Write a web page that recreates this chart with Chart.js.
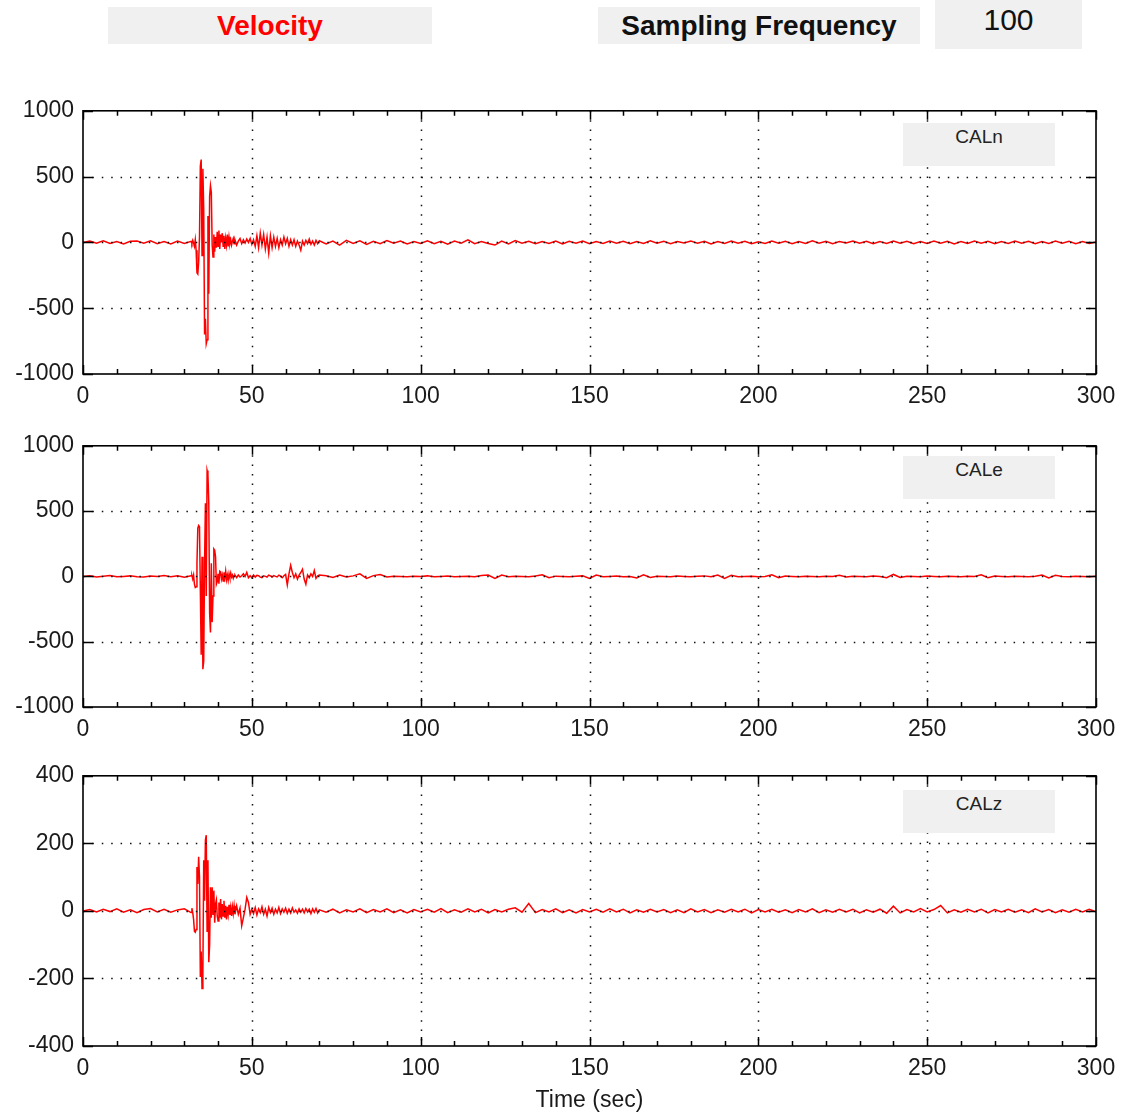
<!DOCTYPE html>
<html>
<head>
<meta charset="utf-8">
<script src="https://cdn.jsdelivr.net/npm/chart.js@4.4.0/dist/chart.umd.min.js"></script>
<style>
	body{margin:0;background:#fff;font-family:"Liberation Sans",Arial,sans-serif;}
	#page{position:relative;width:1130px;height:1114px;overflow:hidden;background:#fff;}
	.hbox{position:absolute;background:#f0f0f0;text-align:center;}
	.cal{position:absolute;left:903px;width:152px;height:43px;background:#f0f0f0;text-align:center;font-size:19px;line-height:28px;color:#222;}
	canvas{position:absolute;left:0;}
</style>
</head>
<body>
<div id="page">
	<div class="hbox" style="left:108px;top:7px;width:324px;height:37px;line-height:37px;font-weight:bold;font-size:28px;color:#ff0000;">Velocity</div>
	<div class="hbox" style="left:598px;top:7px;width:322px;height:37px;line-height:37px;font-weight:bold;font-size:28px;color:#111;">Sampling Frequency</div>
	<div class="hbox" style="left:935px;top:0px;width:147px;height:49px;line-height:40px;font-size:30px;color:#111;">100</div>

	<canvas id="cvN" width="1130" height="326" style="top:88px"></canvas>
	<canvas id="cvE" width="1130" height="324" style="top:423px"></canvas>
	<canvas id="cvZ" width="1130" height="361" style="top:753px"></canvas>

	<div class="cal" style="top:123px">CALn</div>
	<div class="cal" style="top:456px">CALe</div>
	<div class="cal" style="top:790px">CALz</div>
</div>
<script>
// sample times (sec), shared by the three components
var timeSec = [
	0,2,4,6,8,10,12,14,16,18,20,22,24,26,28,30,32,
	32.25,32.5,32.75,33, 33.25,33.5,33.75,34, 34.25,34.5,34.75,35, 35.25,35.5,35.75,36,
	36.25,36.5,36.75,37, 37.25,37.5,37.75,38, 38.25,38.5,38.75,39, 39.25,39.5,39.75,40,
	40.25,40.5,40.75,41, 41.25,41.5,41.75,42, 42.25,42.5,42.75,43, 43.25,43.5,43.75,44,
	44.25,44.5,44.75,45,
	45.5,46,46.5,47,47.5,48,48.5,49,49.5,50,
	50.5,51,51.5,52,52.5,53,53.5,54,54.5,55,
	55.5,56,56.5,57,57.5,58,58.5,59,59.5,60,
	60.5,61,61.5,62,62.5,63,63.5,64,64.5,65,
	65.5,66,66.5,67,67.5,68,68.5,69,69.5,70,
	72,74,76,78,80,82,84,86,88,90,
	92,94,96,98,100,102,104,106,108,110,
	112,114,116,118,120,122,124,126,128,130,
	132,134,136,138,140,142,144,146,148,150,
	152,154,156,158,160,162,164,166,168,170,
	172,174,176,178,180,182,184,186,188,190,
	192,194,196,198,200,202,204,206,208,210,
	212,214,216,218,220,222,224,226,228,230,
	232,234,236,238,240,242,244,246,248,250,
	252,254,256,258,260,262,264,266,268,270,
	272,274,276,278,280,282,284,286,288,290,
	292,294,296,298,300
];

// CALn velocity
var calnVel = [
	0,10,-6,12,-8,6,-12,8,10,-6,12,-10,6,-12,10,-8,8,
	-10,15,-5,-30, 20,-60,-230,-240, -150,40,580,630, -100,560,250,-700,
	-580,-770,-740,200, -390,350,430,380, -20,-110,60,-70, 40,-40,80,-30,
	90,-50,60,0, 70,-30,50,-50, 30,-20,60,-30, 40,-10,20,-20,
	10,30,-10,20,
	-20,10,30,-10,20,-5,25,0,30,-15,
	20,-30,50,-40,70,-20,60,-50,40,-80,
	50,-40,40,-30,30,-40,20,-20,40,-10,
	30,-30,20,-20,20,-30,10,-20,-60,10,
	-20,15,-10,25,-15,10,-20,15,-10,12,
	-12,10,-20,15,-8,12,-15,8,-10,14,
	-6,10,-12,6,-8,12,-10,8,-14,10,
	-6,20,-10,6,-8,-20,10,-12,14,-6,
	8,-10,6,-8,10,-12,8,-6,10,-10,
	6,-8,10,-6,8,-10,6,-8,12,-6,
	8,-10,6,-4,10,-6,8,-12,6,-8,
	10,-6,8,-10,4,-8,10,-6,8,-10,
	6,-8,12,-6,8,-10,6,-4,10,-6,
	8,-10,6,-8,10,-6,8,-10,6,-8,
	10,-6,8,-12,6,-8,10,-6,8,-10,
	6,-8,10,-6,8,-10,6,-8,10,-6,
	8,-10,6,-8,4
];

// CALe velocity
var caleVel = [
	0,4,-4,2,6,-3,0,4,-2,-4,3,0,6,-2,4,-6,5,
	6,-20,10,-60, -85,-80,100,370, 390,380,-100,-600, 150,-710,-650,100,
	560,-150,810,780, 560,-280,-430,100, -350,-150,210,200, 150,-60,-40,20,
	-55,40,35,-20, 10,-35,30,-10, 40,-25,10,-30, 20,-10,25,-5,
	10,-15,5,10,
	-10,10,-5,5,20,0,30,-10,5,-10,
	10,-5,8,5,-6,-10,4,0,-5,10,
	4,-5,6,0,-4,10,2,-10,5,15,
	-65,20,85,30,-10,20,-20,10,30,55,
	-20,-60,10,-10,20,0,45,-15,5,10,
	5,-8,10,-5,4,20,-15,6,15,-4,
	2,0,-3,2,0,4,-2,0,3,-2,
	0,2,-2,6,10,-15,10,-3,2,0,
	-2,3,12,-10,2,0,-3,2,4,-15,
	10,-2,0,3,-2,0,-12,12,-8,2,
	0,-2,3,0,-2,2,4,-3,10,-15,
	8,-2,0,2,-3,0,12,-10,3,0,
	-2,2,0,-3,2,0,8,-4,2,0,
	-2,3,0,-10,15,-8,2,0,-2,3,
	0,-2,2,0,-3,2,0,12,-10,3,
	0,-2,2,0,-3,2,10,-12,8,0,
	-2,2,0,-3,2
];

// CALz velocity
var calzVel = [
	0,4,-3,5,-2,6,-4,3,-5,4,7,-3,5,-4,3,6,-5,
	8,-5,-25,-60, -63,-55,130,80, 160,100,-196,-120, -230,-180,150,30,
	210,224,-60,150, -152,-100,70,-20, 70,-10,60,-35, 20,32,-15,-30,
	25,-20,35,-25, 20,-15,30,-20, 15,-25,12,-10, 18,-12,10,-15,
	12,-8,15,-10,
	15,-10,8,-44,-20,5,40,25,-10,5,
	-8,10,-12,6,-5,12,-10,5,-15,10,
	-5,8,-10,5,-6,10,-8,6,-4,8,
	-7,5,-6,9,-4,3,-7,6,-4,5,
	-6,7,-3,5,-8,6,-4,7,-6,3,
	-4,5,-6,3,-3,6,-5,4,-3,6,
	-5,3,-6,4,-3,5,-4,7,-5,3,
	-4,6,-3,5,-6,4,-3,5,9,-4,
	22,-5,4,-3,6,-5,3,-6,4,-3,
	5,-4,6,-3,5,-6,3,-4,5,-3,
	4,-5,3,-5,6,-3,4,-5,3,-4,
	5,-3,5,-6,4,-3,5,-4,3,-5,
	4,-3,6,-5,3,-4,5,-3,5,-6,
	3,-4,5,-7,14,-6,4,-3,7,-3,
	4,16,-6,3,-4,5,-3,5,-6,4,
	-3,5,-4,3,-5,6,-3,4,-5,3,
	-4,5,-3,5,-3
];

// axis tick labels
var timeTicks = [0,50,100,150,200,250,300];
var velTicksNE = [-1000,-500,0,500,1000];
var velTicksZ = [-400,-200,0,200,400];

var fontFam = '"Liberation Sans", Arial, sans-serif';

// matlab style box: dotted grid, inward ticks, black frame
var framePlugin = {
	id: 'frame',
	afterDatasetsDraw: function(chart){
		var ctx = chart.ctx;
		var a = chart.chartArea;
		var xs = chart.scales.x;
		var ys = chart.scales.y;
		ctx.save();
		ctx.strokeStyle = '#111';
		ctx.lineWidth = 1.5;
		ctx.setLineDash([1.5, 7.9]);
		xs.ticks.forEach(function(t){
			if(t.value > xs.min && t.value < xs.max){
				var px = Math.round(xs.getPixelForValue(t.value)) + 0.5;
				ctx.beginPath(); ctx.moveTo(px, a.top); ctx.lineTo(px, a.bottom); ctx.stroke();
			}
		});
		ys.ticks.forEach(function(t){
			if(t.value > ys.min && t.value < ys.max){
				var py = Math.round(ys.getPixelForValue(t.value)) + 0.5;
				ctx.beginPath(); ctx.moveTo(a.left, py); ctx.lineTo(a.right, py); ctx.stroke();
			}
		});
		ctx.setLineDash([]);
		ctx.lineWidth = 1.5;
		ctx.strokeStyle = '#000';
		// x minor ticks every 10 s, major every 50 s
		for(var v = xs.min; v <= xs.max; v += 10){
			var px = Math.round(xs.getPixelForValue(v)) + 0.5;
			var len = (v % 50 === 0) ? 9 : 5;
			ctx.beginPath();
			ctx.moveTo(px, a.top); ctx.lineTo(px, a.top + len);
			ctx.moveTo(px, a.bottom); ctx.lineTo(px, a.bottom - len);
			ctx.stroke();
		}
		ys.ticks.forEach(function(t){
			var py = Math.round(ys.getPixelForValue(t.value)) + 0.5;
			ctx.beginPath();
			ctx.moveTo(a.left, py); ctx.lineTo(a.left + 10, py);
			ctx.moveTo(a.right, py); ctx.lineTo(a.right - 10, py);
			ctx.stroke();
		});
		ctx.lineWidth = 1.6;
		ctx.strokeRect(a.left, a.top, a.right - a.left, a.bottom - a.top);
		ctx.restore();
	}
};

function makeTrace(canvasId, values, yTicks, showTitle, axisHeight){
	var pts = [];
	for(var i in timeSec){
		pts.push({x: timeSec[i], y: values[i]});
	}
	var ctx = document.getElementById(canvasId);
	return new Chart(ctx, {
		type: 'line',
		data: {
			datasets: [{
				data: pts,
				borderColor: '#ff0000',
				borderWidth: 1.5,
				pointRadius: 0,
				tension: 0,
				fill: false
			}]
		},
		options: {
			responsive: false,
			animation: false,
			devicePixelRatio: 1,
			events: [],
			layout: {padding: {top: 0, right: 34, left: 0, bottom: 0}},
			plugins: {legend: {display: false}, tooltip: {enabled: false}},
			scales: {
				x: {
					type: 'linear',
					min: 0, max: 300,
					afterBuildTicks: function(s){ s.ticks = timeTicks.map(function(v){ return {value: v}; }); },
					afterFit: function(s){ s.height = axisHeight; },
					grid: {display: false, drawTicks: false},
					border: {display: false},
					ticks: {color: '#1a1a1a', font: {family: fontFam, size: 23}, padding: 9, maxRotation: 0, autoSkip: false,
						callback: function(v){ return String(v); }},
					title: {display: showTitle, text: 'Time (sec)', color: '#1a1a1a', font: {family: fontFam, size: 23}, padding: {top: 0, bottom: 0}}
				},
				y: {
					type: 'linear',
					min: yTicks[0], max: yTicks[yTicks.length - 1],
					afterBuildTicks: function(s){ s.ticks = yTicks.map(function(v){ return {value: v}; }); },
					afterFit: function(s){ s.width = 83; },
					grid: {display: false, drawTicks: false},
					border: {display: false},
					ticks: {color: '#1a1a1a', font: {family: fontFam, size: 23}, padding: 9,
						callback: function(v){ return String(v); }}
				}
			}
		},
		plugins: [framePlugin]
	});
}

makeTrace('cvN', calnVel, velTicksNE, false, 40);
makeTrace('cvE', caleVel, velTicksNE, false, 40);
makeTrace('cvZ', calzVel, velTicksZ, true, 68);
</script>
</body>
</html>
